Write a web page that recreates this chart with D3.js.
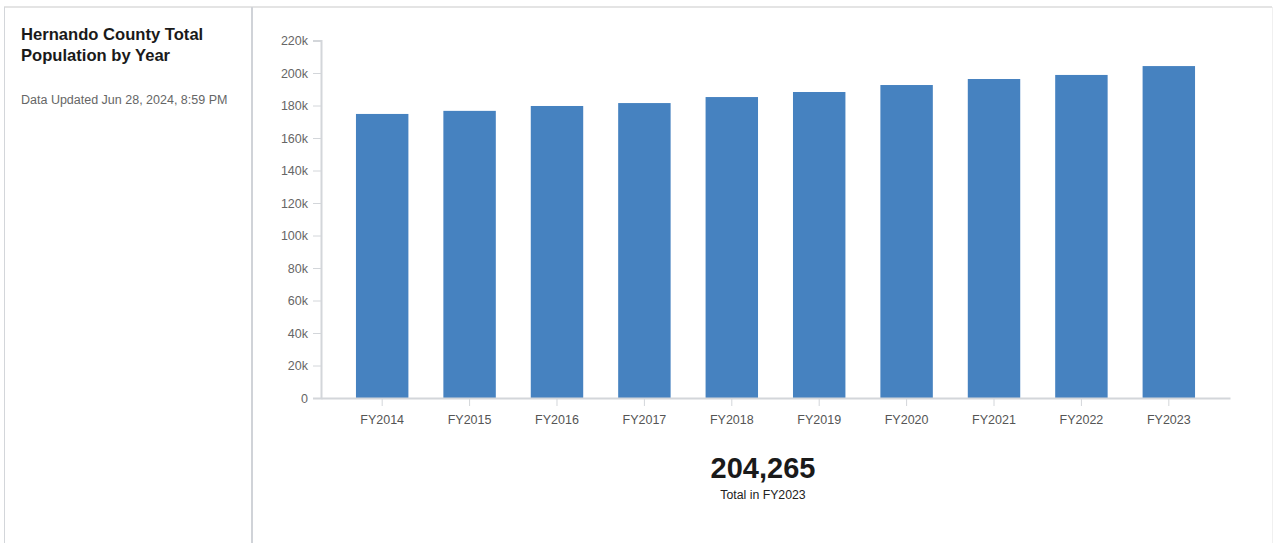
<!DOCTYPE html>
<html>
<head>
<meta charset="utf-8">
<script src="https://cdn.jsdelivr.net/npm/d3@7"></script>
<style>
  html, body { margin: 0; padding: 0; background: #fff; }
  body { width: 1274px; height: 543px; overflow: hidden; font-family: "Liberation Sans", Arial, sans-serif; }
</style>
</head>
<body>
<svg id="chart" width="1274" height="543"></svg>
<script>
// Population per fiscal year
const categories = ["FY2014", "FY2015", "FY2016", "FY2017", "FY2018", "FY2019", "FY2020", "FY2021", "FY2022", "FY2023"];
const population = [174800, 176700, 179700, 181500, 185200, 188300, 192600, 196300, 198800, 204265];
const yTickValues = [0, 20000, 40000, 60000, 80000, 100000, 120000, 140000, 160000, 180000, 200000, 220000];

const svg = d3.select("#chart");
const FONT = "Liberation Sans, Arial, sans-serif";

// Card frame
svg.append("line").attr("x1", 4).attr("x2", 1272).attr("y1", 7).attr("y2", 7)
  .attr("stroke", "#e4e4e4").attr("stroke-width", 2);
svg.append("line").attr("x1", 4.5).attr("x2", 4.5).attr("y1", 7).attr("y2", 543)
  .attr("stroke", "#d3d6da").attr("stroke-width", 1);
svg.append("line").attr("x1", 252).attr("x2", 252).attr("y1", 7).attr("y2", 543)
  .attr("stroke", "#d0d3d8").attr("stroke-width", 2);
svg.append("line").attr("x1", 1272.5).attr("x2", 1272.5).attr("y1", 7).attr("y2", 543)
  .attr("stroke", "#f0f0f0").attr("stroke-width", 1);

// Side panel text
const side = svg.append("g").attr("font-family", FONT);
side.append("text").attr("x", 21).attr("y", 40).attr("font-size", 16.6).attr("font-weight", "bold")
  .attr("fill", "#1a1a1a").text("Hernando County Total");
side.append("text").attr("x", 21).attr("y", 61).attr("font-size", 16.6).attr("font-weight", "bold")
  .attr("fill", "#1a1a1a").text("Population by Year");
side.append("text").attr("x", 21).attr("y", 104).attr("font-size", 12.5)
  .attr("fill", "#666").text("Data Updated Jun 28, 2024, 8:59 PM");

// Scales
const x = d3.scaleBand().domain(categories).range([321, 1230]).paddingInner(0.4).paddingOuter(0.4);
const y = d3.scaleLinear().domain([0, 220000]).range([398, 40.5]);

// Bars
svg.append("g").selectAll("rect").data(categories).join("rect")
  .attr("x", d => x(d))
  .attr("width", x.bandwidth())
  .attr("y", (d, i) => y(population[i]))
  .attr("height", (d, i) => y(0) - y(population[i]))
  .attr("fill", "#4682c0");

const fmtK = v => v === 0 ? "0" : (v / 1000) + "k";

// Y axis
const yAxis = svg.append("g").attr("transform", "translate(321,0)")
  .call(d3.axisLeft(y).tickValues(yTickValues).tickFormat(fmtK).tickSize(8).tickPadding(5));
yAxis.select(".domain").attr("stroke", "#d3d6da").attr("stroke-width", 2);
yAxis.selectAll(".tick line").attr("stroke", "#d3d6da").attr("stroke-width", 1);
yAxis.selectAll(".tick text").attr("fill", "#666").attr("font-size", 12.5)
  .attr("font-family", FONT);

// X axis
const xAxis = svg.append("g").attr("transform", "translate(0,398)")
  .call(d3.axisBottom(x).tickSize(8).tickSizeOuter(0).tickPadding(9));
xAxis.select(".domain").attr("stroke", "#d3d6da").attr("stroke-width", 2);
xAxis.selectAll(".tick line").attr("stroke", "#d3d6da").attr("stroke-width", 1);
xAxis.selectAll(".tick text").attr("fill", "#555").attr("font-size", 12.5)
  .attr("font-family", FONT);

// Latest total
const latestIdx = categories.length - 1;
svg.append("text").attr("x", 763).attr("y", 478).attr("text-anchor", "middle")
  .attr("font-size", 29).attr("font-weight", "bold").attr("fill", "#1a1a1a")
  .attr("font-family", FONT)
  .text(d3.format(",")(population[latestIdx]));
svg.append("text").attr("x", 763).attr("y", 499).attr("text-anchor", "middle")
  .attr("font-size", 12.3).attr("fill", "#222")
  .attr("font-family", FONT)
  .text("Total in " + categories[latestIdx]);
</script>
</body>
</html>
